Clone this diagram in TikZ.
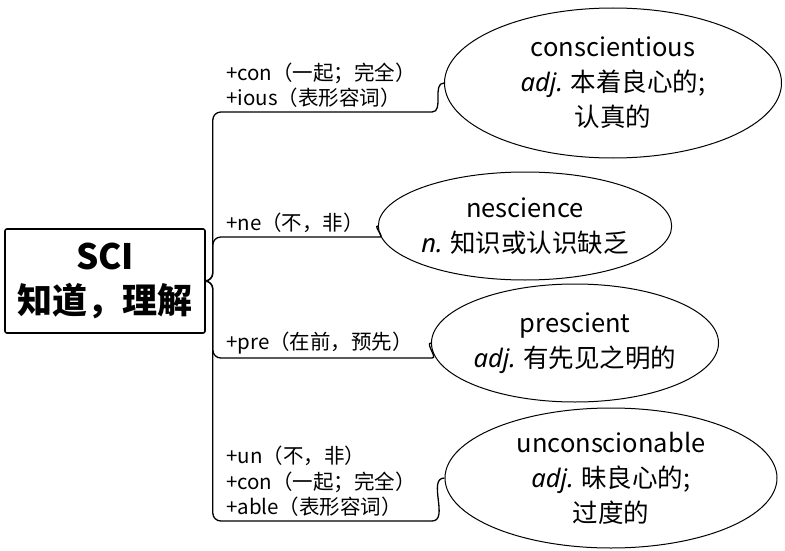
\documentclass[tikz,border=0pt]{standalone}
\usepackage{fontspec}
\setmainfont{Noto Sans CJK SC}
\newfontfamily\latinfont{Noto Sans}
\usetikzlibrary{shapes.geometric}
\newcommand{\wordclass}[1]{{\latinfont\itshape #1}}

\begin{document}
\begin{tikzpicture}[x=1pt,y=-1pt,
    rootbox/.style={draw,line width=1.6pt,rounded corners=2pt,minimum width=200pt,minimum height=104pt,align=center,font=\fontsize{35}{44}\selectfont\bfseries},
    meaning/.style={ellipse,draw,line width=1pt,align=center,inner sep=0pt,font=\fontsize{25.5}{35}\selectfont},
    affix/.style={anchor=south west,align=left,inner sep=2pt,font=\fontsize{20.5}{25.5}\selectfont},
    branch/.style={line width=1.3pt,rounded corners=8pt},
    twig/.style={line width=1.3pt}]
  \useasboundingbox (0,0) rectangle (785,551);
  % Root word
  \node[rootbox] (root) at (105,281) {SCI\\知道，理解};
  % Derived words
  \node[meaning,minimum width=337pt,minimum height=150pt] (e1) at (613,83) {conscientious\\\wordclass{adj.} 本着良心的;\\认真的};
  \node[meaning,minimum width=265pt,minimum height=108pt] (e2) at (525,226) {nescience\\\wordclass{n.} 知识或认识缺乏};
  \node[meaning,minimum width=263pt,minimum height=118pt] (e3) at (575,343) {prescient\\\wordclass{adj.} 有先见之明的};
  \node[meaning,minimum width=332pt,minimum height=140pt] (e4) at (611,478) {unconscionable\\\wordclass{adj.} 昧良心的;\\过度的};
  % Affixes
  \node[affix] (a1) at (224,110) {+con（一起；完全）\\+ious（表形容词）};
  \node[affix] (a2) at (224,235) {+ne（不，非）};
  \node[affix] (a3) at (224,356) {+pre（在前，预先）};
  \node[affix] (a4) at (224,519) {+un（不，非）\\+con（一起；完全）\\+able（表形容词）};
  % Branch ends
  \coordinate (u1) at (432,112);
  \coordinate (u2) at (380,237);
  \coordinate (u3) at (432,358);
  \coordinate (u4) at (432,521);
  % Branches
  \draw[branch] (root.east) -- ++(7,0) |- (u1);
  \draw[branch] (root.east) -- ++(7,0) |- (u2);
  \draw[branch] (root.east) -- ++(7,0) |- (u3);
  \draw[branch] (root.east) -- ++(7,0) |- (u4);
  % Links to the ellipses
  \draw[twig] (u1) to[out=0,in=180] (e1.west);
  \draw[twig] (u2) to[out=0,in=180] (e2.west);
  \draw[twig] (u3) to[out=0,in=180] (e3.west);
  \draw[twig] (u4) to[out=0,in=180] (e4.west);
\end{tikzpicture}
\end{document}
